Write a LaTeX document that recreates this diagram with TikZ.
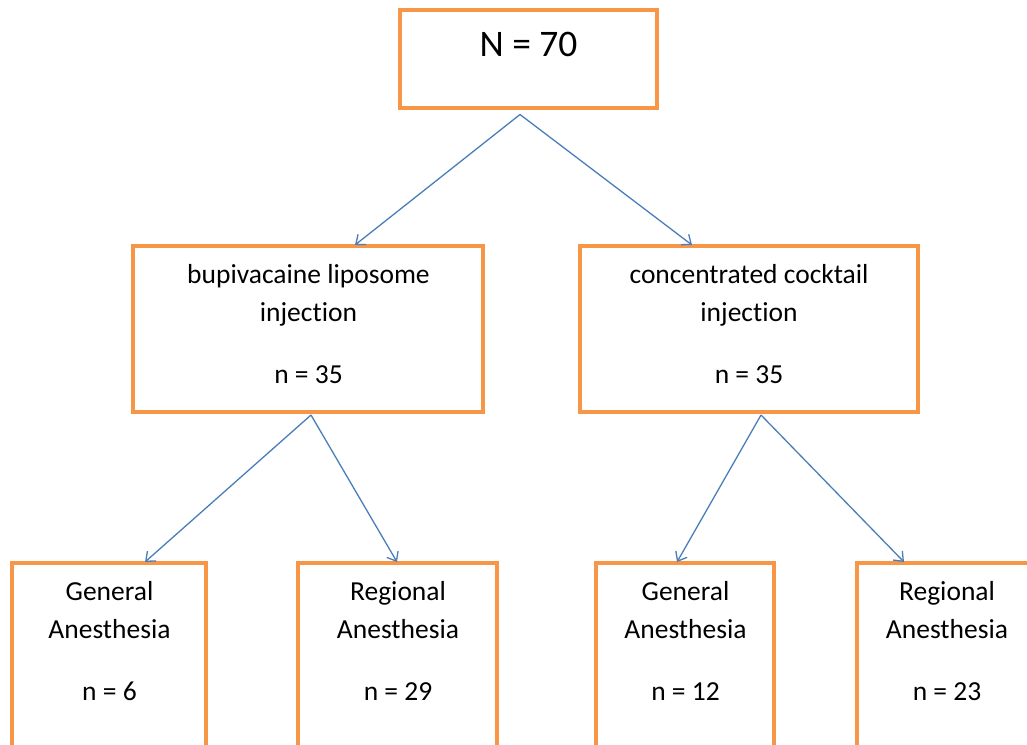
\documentclass[tikz,border=0pt]{standalone}
\usepackage{fontspec}
\setmainfont[RawFeature={-liga}]{Carlito}
\usetikzlibrary{arrows.meta,calc}
\definecolor{boxorange}{HTML}{F79646}
\definecolor{arrowblue}{HTML}{4A7EBB}
\tikzset{
  box/.style={draw=boxorange, line width=4pt, fill=white, rectangle, inner sep=0pt},
  txt/.style={anchor=base, inner sep=0pt, font=\fontsize{27.5}{38.5}\selectfont},
  conn/.style={draw=arrowblue, line width=1.3pt, -{Straight Barb[length=8pt,width=13pt]}}
}
\newcommand{\boxlines}[1]{\begin{tabular}[t]{@{}c@{}}#1\end{tabular}}
\begin{document}
\begin{tikzpicture}[x=1pt,y=-1pt]
\clip (0,0) rectangle (1027,744);
\useasboundingbox (0,0) rectangle (1027,744);
\fill[white] (0,0) rectangle (1027,744);
% boxes
\node[box, minimum width=257pt, minimum height=98pt] (top) at (528.5,59) {};
\node[box, minimum width=350pt, minimum height=166pt] (ml) at (308,329) {};
\node[box, minimum width=338pt, minimum height=166pt] (mr) at (749,329) {};
\node[box, minimum width=194pt, minimum height=220pt] (b1) at (109,673) {};
\node[box, minimum width=199pt, minimum height=220pt] (b2) at (397.5,673) {};
\node[box, minimum width=178pt, minimum height=220pt] (b3) at (685,673) {};
\node[box, minimum width=180pt, minimum height=220pt] (b4) at (947,673) {};
% texts
\node[anchor=base, inner sep=0pt, font=\fontsize{37.5}{43}\selectfont] (ttop) at (528.5,56.7) {N = 70};
\node[txt] (tml) at (308.5,283) {\boxlines{bupivacaine liposome\\injection\\[23.5pt]n = 35}};
\node[txt] (tmr) at (749,283) {\boxlines{concentrated cocktail\\injection\\[23.5pt]n = 35}};
\node[txt] (tb1) at (109.5,600) {\boxlines{General\\Anesthesia\\[23.5pt]n = 6}};
\node[txt] (tb2) at (398,600) {\boxlines{Regional\\Anesthesia\\[23.5pt]n = 29}};
\node[txt] (tb3) at (685.5,600) {\boxlines{General\\Anesthesia\\[23.5pt]n = 12}};
\node[txt] (tb4) at (947,600) {\boxlines{Regional\\Anesthesia\\[23.5pt]n = 23}};
% connectors
\draw[conn] ([xshift=-8.5pt,yshift=-4.5pt]top.south) -- ([xshift=47pt,yshift=-1pt]ml.north);
\draw[conn] ([xshift=-8.5pt,yshift=-4.5pt]top.south) -- ([xshift=-57pt,yshift=-1pt]mr.north);
\draw[conn] ([xshift=3pt,yshift=-1pt]ml.south) -- ([xshift=36pt,yshift=-1pt]b1.north);
\draw[conn] ([xshift=3pt,yshift=-1pt]ml.south) -- ([xshift=-0.5pt,yshift=-1pt]b2.north);
\draw[conn] ([xshift=12pt,yshift=-1pt]mr.south) -- ([xshift=-8pt,yshift=-1pt]b3.north);
\draw[conn] ([xshift=12pt,yshift=-1pt]mr.south) -- ([xshift=-43pt,yshift=-1pt]b4.north);
\end{tikzpicture}
\end{document}
